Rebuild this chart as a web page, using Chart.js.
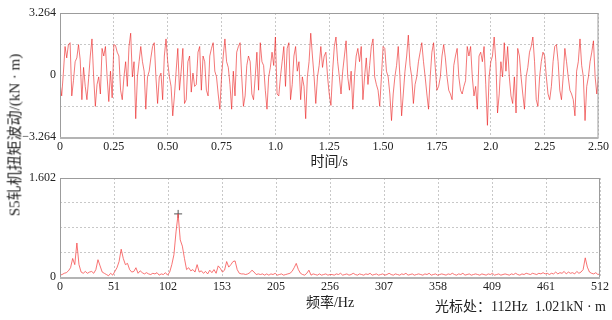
<!DOCTYPE html>
<html>
<head>
<meta charset="utf-8">
<script src="https://cdn.jsdelivr.net/npm/chart.js@4.4.0/dist/chart.umd.min.js"></script>
<style>
html, body { margin: 0; padding: 0; background: #fff; }
#wrap { position: relative; width: 612px; height: 320px; overflow: hidden; }
canvas { position: absolute; left: 0; }
#plotTop { top: 0; }
#plotBottom { top: 165px; }
.lbl { position: absolute; font-family: 'Liberation Serif', 'Noto Sans CJK SC', serif; color: #222; white-space: pre; }
#ytitle { left: 13px; top: 135px; font-size: 15px; transform: translate(-50%, -50%) rotate(-90deg); }
#cursor { right: 6px; top: 295px; font-size: 14px; }
</style>
</head>
<body>
<div id="wrap">
  <canvas id="plotTop" width="612" height="171"></canvas>
  <canvas id="plotBottom" width="612" height="147"></canvas>
  <div id="ytitle" class="lbl">S5轧机扭矩波动/(kN · m)</div>
  <div id="cursor" class="lbl">光标处：112Hz  1.021kN · m</div>
</div>
<script>
// axis ticks / labels
const timeTicks = [0, 0.25, 0.5, 0.75, 1.0, 1.25, 1.5, 1.75, 2.0, 2.25, 2.5];
const timeTickLabels = ["0", "0.25", "0.50", "0.75", "1.0", "1.25", "1.50", "1.75", "2.0", "2.25", "2.50"];
const freqTicks = [0, 51.2, 102.4, 153.6, 204.8, 256, 307.2, 358.4, 409.6, 460.8, 512];
const freqTickLabels = ["0", "51", "102", "153", "205", "256", "307", "358", "409", "461", "512"];
const torqueTicks = [-3.264, -1.632, 0, 1.632, 3.264];
const torqueTickLabels = ["\u22123.264", "", "0", "", "3.264"];
const ampTicks = [0, 0.4005, 0.801, 1.2015, 1.602];
const ampTickLabels = ["0", "", "", "", "1.602"];

const duration = 2.5;   // s
const maxFreq = 512;    // Hz

// torque fluctuation, kN·m, evenly sampled over 0..2.5 s
const torque = [
  -0.4, -1.1, 0.1, 1.5, 0.9, 1.6, 1.7, -1.1, -0.3, 0.7, 0.9, 1.6, 0.8, -1.3, 0.4, -0.6, -1.3, -0.2, 1.0, 1.9,
  -0.1, -1.65, -0.5, -0.1, -1.0, 1.4, 1.0, 1.5, -0.1, -1.4, 0.2, -1.2, 1.6, 1.55, 1.2, 1.0, -0.8, -1.3, -0.1, 0.7,
  -0.6, 1.5, 2.2, -0.1, 0.7, -2.3, -0.1, 0.7, 1.5, 0.7, 0.2, -1.8, -0.1, 0.2, 0.9, 1.5, 1.7, -0.1, -1.5, -0.1,
  0.1, -1.3, 1.0, 1.9, 0.7, -0.1, -0.6, -2.15, -1.1, 0.2, 1.4, -0.8, 0.2, 1.4, -1.5, -1.3, 0.7, 1.0, -0.9, 0.1,
  -0.6,
  -0.5, 1.2, 1.5, -0.8, 1.0, 0.7, -0.8, -1.1, 1.0, 1.4, 1.7, 0.2, -0.1, -1.0, -1.8, -0.1, 1.0, 1.9, 0.7, 0.4,
  -0.5, -1.8, 0.2, -1.1, 1.2, 1.5, 1.7, -0.1, -1.65, -1.1, 0.5, 1.0, 0.7, -1.0, -1.3, -0.1, 1.2, -0.8, 1.7, 0.7,
  0.5, -0.8, -1.8, -0.1, 0.4, 1.2, 0.5, 2.0, -1.0, -1.1, -0.1, 0.7, 1.5, -0.6, 1.4, 1.7, -1.3, -0.5, 1.0, 1.5,
  0.2, 0.7, -1.3, -0.1, -0.6, -2.3, -0.1, 0.7, 2.2, 1.0, -0.1, -1.5, -0.1, 0.5, 1.5, 0.4, 1.0, 1.2, -0.1, -1.0,
  -1.6, 0.2, 1.5, 2.0, 0.7, -0.1, -1.0, 0.2, 1.0, 1.8, -0.1, -0.8, 0.2, -1.8, -0.1, 1.0, 1.4, 0.7, 1.5, -1.3,
  -0.1, 0.9, -0.5, 0.5, 1.5, 1.9, -0.1, -0.5, -0.8, -1.65, -0.1, 1.5, 1.4, 0.2, -0.1, -1.0, -2.4, -1.0, -0.1, 0.5,
  1.5, -0.1, -2.15, -1.0, 0.2, 1.0, 2.1, 0.5, -0.1, -1.5, -0.5, -0.1, 0.7, 1.2, 1.7, 0.7, -0.1, -1.0, -1.8, -0.1,
  1.2, 1.7, 0.4, -0.8, -0.6, -0.1, 1.0, 1.6, 0.9, -0.1, -0.8, -1.0, -1.3, 0.5, 1.0, 1.4, -0.1, -0.8, -1.0, -0.6,
  -0.3, 1.5, 1.0, 1.5, -0.1, -1.1, -0.6, -1.8, 1.0, 1.2, 0.7, 1.5, -0.5, -2.65, -0.1, 0.7, 1.0, 2.0, 0.7, -2.0,
  -1.0, 0.7, -0.1, 1.7, 0.2, 1.5, -0.1, -1.1, -1.5, -0.1, -2.0, 1.4, 1.0, -0.1, -1.0, -1.8, -0.1, 0.4, 1.2, 1.5,
  2.0, 0.7, -1.3, -1.65, -0.1, 0.7, 1.2, 1.0, -0.1, -1.0, -1.3, -0.6, 0.7, 1.5, 1.6, 0.7, -0.8, -1.3, -0.1, 1.4,
  0.7, -0.1, -0.8, -1.0, -1.3, -2.15, 0.2, 0.7, 1.9, 0.5, -0.1, -2.4, -0.6, -0.1, 0.7, 1.2, 1.8, -0.1, -1.0, -0.1
];

// amplitude spectrum, kN·m, evenly spaced over 0..512 Hz
const amplitude = [
  0.03, 0.04, 0.06, 0.07, 0.10, 0.15, 0.30, 0.20, 0.55, 0.20, 0.08, 0.06, 0.09, 0.06, 0.08, 0.09, 0.06, 0.12, 0.28, 0.18,
  0.08, 0.06, 0.04, 0.02, 0.06, 0.03, 0.09, 0.15, 0.25, 0.45, 0.30, 0.20, 0.22, 0.12, 0.08, 0.09, 0.15, 0.06, 0.10, 0.07,
  0.05, 0.07, 0.05, 0.04, 0.06, 0.05, 0.07, 0.03, 0.05, 0.04, 0.07, 0.03, 0.08, 0.20, 0.36, 0.73, 1.021, 0.60, 0.50, 0.30,
  0.12, 0.15, 0.10, 0.12, 0.08,
  0.20, 0.08, 0.10, 0.06, 0.09, 0.05, 0.11, 0.07, 0.12, 0.06, 0.18, 0.14, 0.08, 0.11, 0.25, 0.16, 0.20, 0.25, 0.26, 0.12,
  0.06, 0.05, 0.05, 0.04, 0.05, 0.07, 0.11, 0.08, 0.04, 0.05, 0.04, 0.05, 0.03, 0.05, 0.03, 0.05, 0.04, 0.06, 0.03, 0.04,
  0.05, 0.03, 0.04, 0.05, 0.06, 0.09, 0.15, 0.22, 0.12, 0.06, 0.04, 0.03, 0.06, 0.11, 0.03, 0.05, 0.04, 0.03, 0.05, 0.03,
  0.04, 0.05, 0.03, 0.04,
  0.04, 0.03, 0.05, 0.04, 0.06, 0.03, 0.04, 0.05, 0.03, 0.04, 0.06, 0.04, 0.03, 0.05, 0.04, 0.03, 0.05, 0.04, 0.06, 0.03,
  0.04, 0.05, 0.03, 0.04, 0.05, 0.03, 0.04, 0.06, 0.04, 0.03, 0.05, 0.04, 0.03, 0.05, 0.04, 0.06, 0.03, 0.04, 0.05, 0.03,
  0.04, 0.05, 0.04, 0.03, 0.05, 0.04, 0.06, 0.03, 0.04, 0.05, 0.03, 0.04, 0.05, 0.04, 0.03, 0.05, 0.04, 0.06, 0.04, 0.03,
  0.05, 0.04, 0.06, 0.03, 0.04, 0.05, 0.03, 0.04, 0.05, 0.04, 0.03, 0.05, 0.04, 0.03, 0.05, 0.04, 0.06, 0.03, 0.04, 0.05,
  0.03, 0.04, 0.05, 0.04, 0.03, 0.05, 0.04, 0.06, 0.04, 0.03, 0.05, 0.04, 0.06, 0.05, 0.04, 0.06, 0.05, 0.04, 0.06, 0.05,
  0.07, 0.05, 0.06, 0.04, 0.06, 0.05, 0.08, 0.05, 0.07, 0.06, 0.09, 0.05, 0.08, 0.06, 0.07, 0.05, 0.09, 0.06, 0.08, 0.12,
  0.31, 0.16, 0.08, 0.06, 0.05, 0.07, 0.04, 0.05
];

const cursorFreq = 112;
const cursorAmp = 1.021;

Chart.defaults.font.family = "'Liberation Serif', 'Noto Sans CJK SC', serif";
Chart.defaults.color = "#222";
Chart.defaults.animation = false;

// grey frame round the plot area
const plotBox = {
    id: "plotBox",
    afterDatasetsDraw(chart) {
        const { ctx, chartArea: a } = chart;
        ctx.save();
        ctx.strokeStyle = "#9c9c9c";
        ctx.lineWidth = 1;
        ctx.strokeRect(a.left + 0.5, a.top + 0.5, a.right - a.left - 1, a.bottom - a.top);
        ctx.strokeStyle = "#b4b4b4";
        ctx.lineWidth = 2;
        ctx.beginPath();
        ctx.moveTo(a.left, a.bottom + 1);
        ctx.lineTo(a.right, a.bottom + 1);
        ctx.stroke();
        ctx.restore();
    }
};

function xAxis(max, ticks, labels, title, height) {
    return {
        type: "linear",
        min: 0,
        max: max,
        afterBuildTicks: s => { s.ticks = ticks.map(v => ({ value: v })); },
        afterFit: s => { s.height = height; },
        grid: { color: "#c8c8c8", drawTicks: false },
        border: { display: false, dash: [2, 2] },
        ticks: { padding: 3, maxRotation: 0, autoSkip: false, font: { size: 12 }, color: "#222",
                 callback: (v, i) => labels[i] },
        title: { display: true, text: title, font: { size: 14 }, padding: 0, color: "#222" }
    };
}

function yAxis(min, max, ticks, labels) {
    return {
        min: min,
        max: max,
        afterBuildTicks: s => { s.ticks = ticks.map(v => ({ value: v })); },
        afterFit: s => { s.width = 60; },
        grid: { color: "#c8c8c8", drawTicks: false },
        border: { display: false, dash: [2, 2] },
        ticks: { padding: 4, autoSkip: false, font: { size: 12 }, color: "#222",
                 callback: (v, i) => labels[i] }
    };
}

const torqueData = torque.map((v, i) => ({ x: i * duration / (torque.length - 1), y: v }));
const ampData = amplitude.map((v, i) => ({ x: i * maxFreq / (amplitude.length - 1), y: v }));

new Chart(document.getElementById("plotTop"), {
    type: "line",
    data: {
        datasets: [{
            data: torqueData,
            borderColor: "rgba(235, 30, 30, 0.6)",
            borderWidth: 1,
            pointRadius: 0,
            tension: 0
        }]
    },
    options: {
        responsive: false,
        devicePixelRatio: 1,
        layout: { padding: { top: 13, right: 11, bottom: 0, left: 0 } },
        plugins: { legend: { display: false }, tooltip: { enabled: false } },
        scales: {
            x: xAxis(duration, timeTicks, timeTickLabels, "时间/s", 34),
            y: yAxis(-3.264, 3.264, torqueTicks, torqueTickLabels)
        }
    },
    plugins: [plotBox]
});

new Chart(document.getElementById("plotBottom"), {
    type: "line",
    data: {
        datasets: [{
            data: ampData,
            borderColor: "rgba(245, 70, 70, 0.75)",
            borderWidth: 1,
            pointRadius: 0,
            tension: 0
        }, {
            data: [{ x: cursorFreq, y: cursorAmp }],
            showLine: false,
            pointStyle: "cross",
            pointRadius: 4,
            borderColor: "#555",
            borderWidth: 1
        }]
    },
    options: {
        responsive: false,
        devicePixelRatio: 1,
        layout: { padding: { top: 13, right: 11, bottom: 0, left: 0 } },
        plugins: { legend: { display: false }, tooltip: { enabled: false } },
        scales: {
            x: xAxis(maxFreq, freqTicks, freqTickLabels, "频率/Hz", 35),
            y: yAxis(0, 1.602, ampTicks, ampTickLabels)
        }
    },
    plugins: [plotBox]
});
</script>
</body>
</html>
